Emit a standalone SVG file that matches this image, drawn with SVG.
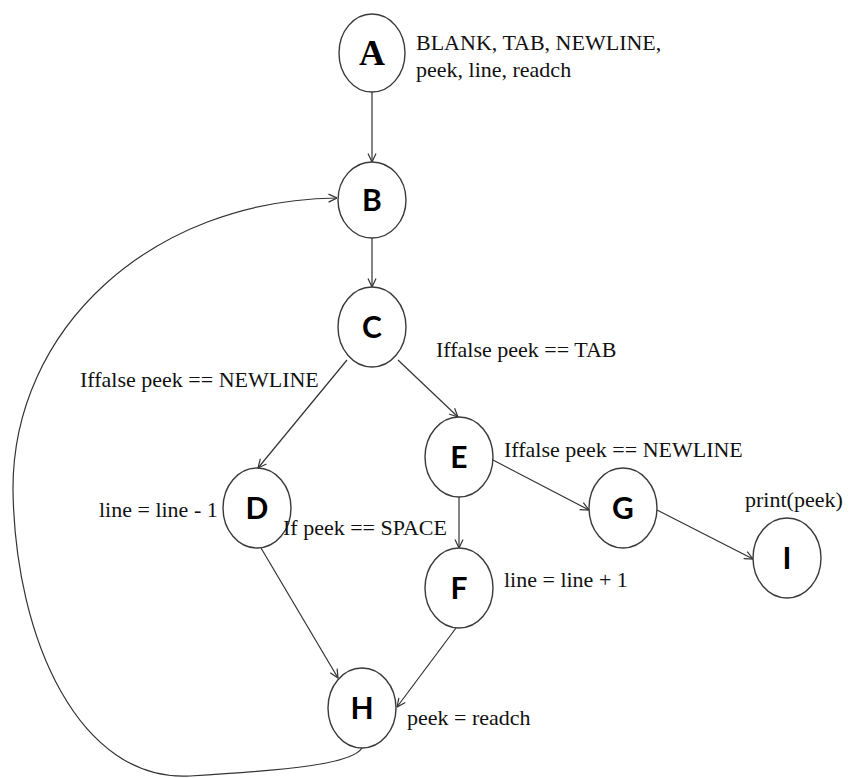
<svg xmlns="http://www.w3.org/2000/svg" width="852" height="778" viewBox="0 0 852 778">
  <style>
    .node ellipse { fill: #ffffff; stroke: #3a3a3a; stroke-width: 1.4; }
    .node text { font-family: Lato, "Open Sans", "Liberation Sans", sans-serif; font-weight: bold; font-size: 30px; fill: #000; text-anchor: middle; }
    .node text.serif { font-family: "Liberation Serif", "Times New Roman", serif; font-size: 36px; }
    .label { font-family: "Liberation Serif", "Times New Roman", serif; font-size: 22px; fill: #111; }
    .edge { fill: none; stroke: #333; stroke-width: 1.2; marker-end: url(#arrow); }
  </style>
  <defs>
    <marker id="arrow" viewBox="0 0 10 10" refX="9.5" refY="5" markerWidth="10" markerHeight="10" markerUnits="userSpaceOnUse" orient="auto">
      <path d="M1,1 L9.5,5 L1,9" fill="none" stroke="#333" stroke-width="1.2"/>
    </marker>
  </defs>
  <rect width="852" height="778" fill="#ffffff"/>

  <!-- connectors -->
  <g id="edges">
    <path class="edge" d="M372,92 L372,162"/>
    <path class="edge" d="M372,238 L372,287"/>
    <path class="edge" d="M347,360 L258,468"/>
    <path class="edge" d="M398,360 L458,417"/>
    <path class="edge" d="M459,497 L459,548"/>
    <path class="edge" d="M493,460 L589,510"/>
    <path class="edge" d="M657,510 L753,559"/>
    <path class="edge" d="M261,548 L338,678"/>
    <path class="edge" d="M456,628 L397,707"/>
    <path class="edge" d="M362,748 C352,764 290,770 190,776 C80,782 15,640 13,490 C12,330 150,200 337,198"/>
  </g>

  <!-- nodes -->
  <g id="node-A" class="node"><ellipse cx="372" cy="53" rx="33" ry="39"/><text class="serif" x="372" y="65">A</text></g>
  <g id="node-B" class="node"><ellipse cx="372" cy="200" rx="34" ry="38"/><text x="372" y="211">B</text></g>
  <g id="node-C" class="node"><ellipse cx="372" cy="327" rx="34" ry="40"/><text x="372" y="338">C</text></g>
  <g id="node-D" class="node"><ellipse cx="257" cy="508" rx="34" ry="40"/><text x="257" y="519">D</text></g>
  <g id="node-E" class="node"><ellipse cx="459" cy="457" rx="34" ry="40"/><text x="459" y="468">E</text></g>
  <g id="node-F" class="node"><ellipse cx="459" cy="588" rx="34" ry="40"/><text x="459" y="599">F</text></g>
  <g id="node-G" class="node"><ellipse cx="623" cy="508" rx="34" ry="40"/><text x="623" y="519">G</text></g>
  <g id="node-H" class="node"><ellipse cx="362" cy="708" rx="34" ry="40"/><text x="362" y="719">H</text></g>
  <g id="node-I" class="node"><ellipse cx="787" cy="558" rx="34" ry="40"/><text x="787" y="569">I</text></g>

  <!-- annotations -->
  <g id="labels">
    <text class="label" x="416" y="50">BLANK, TAB, NEWLINE,</text>
    <text class="label" x="416" y="77">peek, line, readch</text>
    <text class="label" x="436" y="357">Iffalse peek == TAB</text>
    <text class="label" x="80" y="387">Iffalse peek == NEWLINE</text>
    <text class="label" x="504" y="457">Iffalse peek == NEWLINE</text>
    <text class="label" x="99" y="517">line = line - 1</text>
    <text class="label" x="283" y="535">If peek == SPACE</text>
    <text class="label" x="745" y="507">print(peek)</text>
    <text class="label" x="504" y="587">line = line + 1</text>
    <text class="label" x="407" y="725">peek = readch</text>
  </g>
</svg>
